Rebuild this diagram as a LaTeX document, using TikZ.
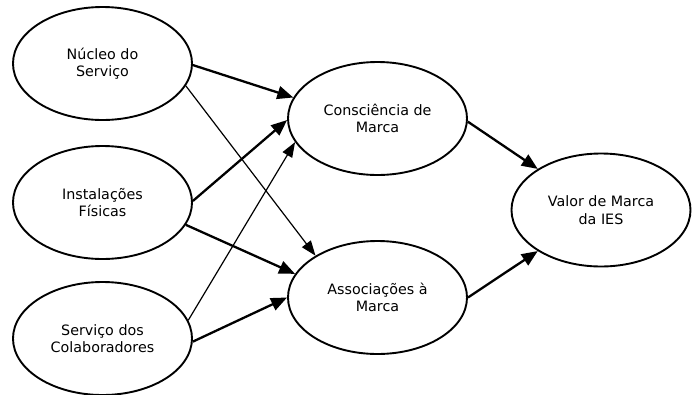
\documentclass[tikz,border=0pt]{standalone}
\usepackage{fontspec}
\setmainfont{DejaVu Sans}
\usetikzlibrary{shapes.geometric,arrows.meta}
\begin{document}
\begin{tikzpicture}[x=1pt,y=-1pt,
  oval/.style={draw,line width=1.9pt,ellipse,minimum width=179pt,minimum height=113pt,inner sep=0pt,align=center,font=\fontsize{14.3}{17.5}\selectfont},
  thickarrow/.style={line width=2.3pt,-{Triangle[length=16pt,width=13pt]}},
  thinarrow/.style={line width=1.2pt,-{Triangle[length=15pt,width=11pt]}}]
\useasboundingbox (0,0) rectangle (696,394);
\node[oval] (N) at (102.5,63.5) {Núcleo do\\Serviço};
\node[oval] (I) at (102.5,202.5) {Instalações\\Físicas};
\node[oval] (S) at (102.5,338.5) {Serviço dos\\Colaboradores};
\node[oval] (C) at (377.5,118.5) {Consciência de\\Marca};
\node[oval] (A) at (377.5,297.5) {Associações à\\Marca};
\node[oval] (V) at (601,210) {Valor de Marca\\da IES};
\draw[thickarrow] (N.-1.6) -- (C.166.4);
\draw[thinarrow] (N.-15.9) -- (A.146.6);
\draw[thickarrow] (I.1.6) -- (C.181);
\draw[thickarrow] (I.-15.3) -- (A.164.4);
\draw[thinarrow] (S.12.6) -- (C.196.4);
\draw[thickarrow] (S.-2.3) -- (A.180);
\draw[thickarrow] (C.-2.3) -- (V.147.6);
\draw[thickarrow] (A.0) -- (V.213.7);
\end{tikzpicture}
\end{document}
